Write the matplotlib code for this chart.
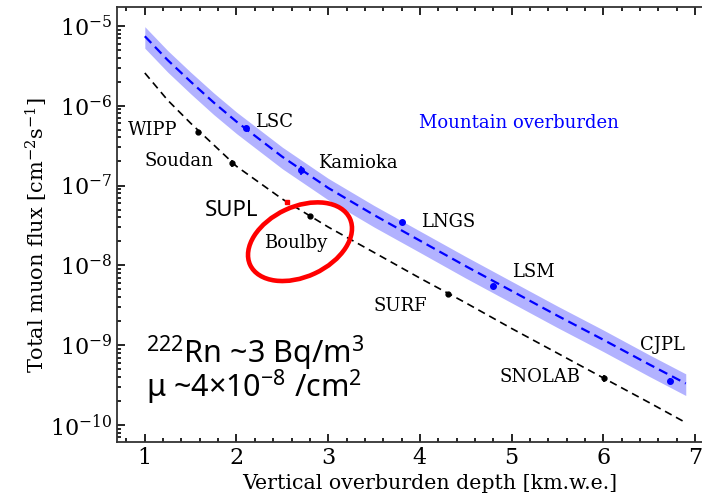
import numpy as np
import matplotlib
matplotlib.use("Agg")
import matplotlib.pyplot as plt
from matplotlib.patches import Ellipse

# Estilo geral
plt.rcParams['font.family'] = ['DejaVu Serif']
plt.rcParams['mathtext.fontset'] = 'dejavuserif'

# Curvas (profundidade em km.w.e., fluxo em cm^-2 s^-1)
depth_mountain = [1.0, 1.25, 1.5, 1.75, 2.0, 2.5, 3.0, 3.5, 4.0, 4.5, 5.0, 5.5, 6.0, 6.5, 6.9]
flux_mountain = [7.41e-6, 3.72e-6, 2.00e-6, 1.10e-6, 6.31e-7, 2.29e-7, 9.33e-8, 4.27e-8,
                 2.04e-8, 9.77e-9, 4.79e-9, 2.34e-9, 1.17e-9, 5.75e-10, 3.31e-10]
band_hi = [9.77e-6, 4.90e-6, 2.63e-6, 1.45e-6, 8.32e-7, 3.02e-7, 1.23e-7, 5.62e-8,
           2.69e-8, 1.29e-8, 6.31e-9, 3.09e-9, 1.55e-9, 7.59e-10, 4.37e-10]
band_lo = [5.25e-6, 2.63e-6, 1.41e-6, 7.76e-7, 4.47e-7, 1.62e-7, 6.61e-8, 3.02e-8,
           1.45e-8, 6.92e-9, 3.39e-9, 1.66e-9, 8.32e-10, 4.07e-10, 2.34e-10]

depth_flat = [1.0, 1.25, 1.5, 1.75, 2.0, 2.5, 3.0, 3.5, 4.0, 4.5, 5.0, 5.5, 6.0, 6.5, 6.9]
flux_flat = [2.57e-6, 1.17e-6, 6.03e-7, 3.24e-7, 1.74e-7, 6.76e-8, 3.02e-8, 1.45e-8,
             6.92e-9, 3.39e-9, 1.62e-9, 7.94e-10, 3.89e-10, 1.91e-10, 1.07e-10]

# Laboratórios sob montanha
mtn_labs = ['LSC', 'Kamioka', 'LNGS', 'LSM', 'CJPL']
mtn_depth = [2.10, 2.70, 3.80, 4.80, 6.73]
mtn_flux = [5.2e-7, 1.57e-7, 3.47e-8, 5.5e-9, 3.6e-10]
mtn_err = [0.2e-7, 0.2e-7, 0.1e-8, 0.3e-9, 0.3e-10]

# Laboratórios em minas (terreno plano)
flat_labs = ['WIPP', 'Soudan', 'Boulby', 'SURF', 'SNOLAB']
flat_depth = [1.58, 1.95, 2.80, 4.31, 6.01]
flat_flux = [4.7e-7, 1.9e-7, 4.1e-8, 4.4e-9, 3.85e-10]
flat_err = [0.1e-7, 0.2e-7, 0.1e-8, 0.1e-9, 0.4e-10]

supl_depth = 2.55
supl_flux = 6.3e-8

# Posições dos rótulos (x, fluxo)
mtn_label_pos = [(2.41, 6.3e-7), (3.32, 1.9e-7), (4.31, 3.5e-8), (5.24, 8.3e-9), (6.65, 1.0e-9)]
flat_label_pos = [(1.09, 5.0e-7), (1.37, 2.05e-7), (2.65, 1.9e-8), (3.79, 3.1e-9), (5.31, 4.0e-10)]

fig = plt.figure(figsize=(7.02, 5.01), dpi=100)
ax = fig.add_axes([0.1671, 0.1172, 0.862, 0.8683])

ax.fill_between(depth_mountain, band_lo, band_hi, color='blue', alpha=0.3, lw=0)
ax.plot(depth_mountain, flux_mountain, color='blue', ls='--', lw=1.6, dashes=(4.2, 2.4))
ax.plot(depth_flat, flux_flat, color='black', ls='--', lw=1.2, dashes=(4.5, 3))

ax.errorbar(mtn_depth, mtn_flux, yerr=mtn_err, fmt='o', color='blue', ms=4, elinewidth=1.2, capsize=0)
ax.errorbar(flat_depth, flat_flux, yerr=flat_err, fmt='o', color='black', ms=3.5, elinewidth=1.2, capsize=0)
ax.plot([supl_depth], [supl_flux], 's', color='red', ms=3.5)

for name, (lx, ly) in zip(mtn_labs, mtn_label_pos):
    ax.text(lx, ly, name, fontsize=13, ha='center', va='center')
for name, (lx, ly) in zip(flat_labs, flat_label_pos):
    ax.text(lx, ly, name, fontsize=13, ha='center', va='center')
ax.text(1.95, 4.8e-8, 'SUPL', fontsize=16, family='Noto Sans', ha='center', va='center')
ax.text(5.08, 6.1e-7, 'Mountain overburden', fontsize=13, color='blue', ha='center', va='center')

# Texto de radônio / múons (um único bloco de duas linhas; ancorado na linha de base da 2a linha)
ax.text(1.01, 2.22e-10,
        '$\\mathregular{^{222}}$Rn ~3 Bq/m$\\mathregular{^{3}}$\n'
        'μ ~4×10$\\mathregular{^{-8}}$ /cm$\\mathregular{^{2}}$',
        fontsize=22, family='Noto Sans', ha='left', va='baseline', linespacing=0.82)

# Elipse vermelha ao redor de Boulby (em polegadas da figura)
ell = Ellipse((3.00, 2.593), 1.10, 0.70, angle=25, fill=False, edgecolor='red', lw=3.3,
              transform=fig.dpi_scale_trans, clip_on=False)
fig.add_artist(ell)

ax.set_yscale('log')
ax.set_xlim(0.7, 7.3)
ax.set_ylim(6.07e-11, 1.71e-5)
ax.set_xticks([1, 2, 3, 4, 5, 6, 7])
ax.xaxis.set_minor_locator(matplotlib.ticker.MultipleLocator(0.2))
ax.yaxis.set_minor_locator(matplotlib.ticker.LogLocator(base=10, subs=np.arange(2, 10), numticks=20))
ax.yaxis.set_minor_formatter(matplotlib.ticker.NullFormatter())
ax.tick_params(which='both', direction='in', top=True, right=False, labelsize=16, width=1.2)
ax.tick_params(which='major', length=6)
ax.tick_params(which='minor', length=3)
for sp in ax.spines.values():
    sp.set_linewidth(1.3)
    sp.set_color('#333333')
ax.spines['right'].set_visible(False)

ax.set_xlabel('Vertical overburden depth [km.w.e.]', fontsize=14.8)
ax.set_ylabel(r'Total muon flux [cm$^{-2}$s$^{-1}$]', fontsize=15)
ax.xaxis.set_label_coords(0.517, -0.073)
ax.yaxis.set_label_coords(-0.112, 0.4766)

fig.savefig('out.png', dpi=100)
